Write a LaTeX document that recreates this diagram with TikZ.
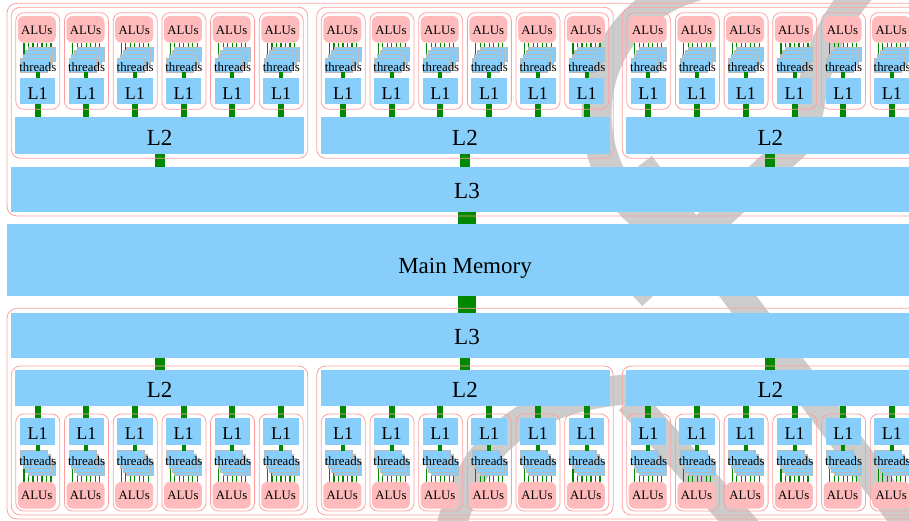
\documentclass[tikz,border=0pt]{standalone}
\usepackage{fontspec}
\setmainfont{Liberation Serif}
\usetikzlibrary{calc}
\newcommand\fbig{\fontsize{23}{23}\selectfont}
\newcommand\fmid{\fontsize{18}{18}\selectfont}
\newcommand\fsml{\fontsize{12.8}{12.8}\selectfont}
\definecolor{cachec}{RGB}{135,206,250}
\definecolor{aluc}{RGB}{255,187,187}
\definecolor{frmc}{RGB}{255,160,160}
\definecolor{lnkc}{RGB}{0,136,0}
\definecolor{wmc}{RGB}{204,204,204}
\definecolor{thrc}{RGB}{185,185,185}
\pgfdeclarelayer{wmlayer}
\pgfdeclarelayer{bglayer}
\pgfdeclarelayer{fglayer}
\pgfsetlayers{wmlayer,bglayer,main,fglayer}
\begin{document}
\begin{tikzpicture}[x=1pt,y=-1pt,
  box/.style={rectangle, inner sep=0pt, outer sep=0pt},
  cachebox/.style={box, fill=cachec, text=black},
  biglabel/.style={font=\fbig, text height=19pt, text depth=0pt},
  l1label/.style={font=\fmid, text height=16pt, text depth=0pt},
  alubox/.style={box, fill=aluc, rounded corners=6pt, font=\fsml, text height=10pt, text depth=0pt, minimum width=38pt, minimum height=26.6pt},
  thrbox/.style={box, fill=cachec, draw=thrc, line width=0.6pt, minimum width=27pt, minimum height=14pt},
  thrlabel/.style={box, font=\fsml, text height=9pt, text depth=0pt},
  frm/.style={box, draw=frmc, line width=0.8pt},
  conn/.style={draw=lnkc, line cap=butt},
  tick/.style={draw=lnkc, line width=1.1pt},
  wmark/.style={draw=wmc, line width=30pt, line cap=butt},
]
\useasboundingbox (0,0) rectangle (909,521);

% ---------- watermark ----------
\begin{pgfonlayer}{wmlayer}
\clip (0,0) rectangle (909,521);
\draw[wmark] (700,-15) .. controls (565,20) and (570,190) .. (670,232);
\draw[wmark] (640,165) -- (935,560);
\draw[wmark] (865,-15) .. controls (805,50) and (815,110) .. (800,140) -- (632,295);
\draw[wmark] (650,388) .. controls (530,392) and (470,440) .. (448,540);
\draw[wmark] (630,400) -- (760,545);
\end{pgfonlayer}

% ---------- central column ----------
\node[cachebox, biglabel, minimum width=912pt, minimum height=45pt] (uL3) at (467,189.2) {L3};
\node[cachebox, font=\fbig, text height=26.5pt, text depth=0pt, minimum width=916pt, minimum height=71.5pt] (mm) at (465,259.75) {Main Memory};
\node[cachebox, biglabel, minimum width=912pt, minimum height=44.5pt] (lL3) at (467,335.25) {L3};
\draw[conn, line width=18pt] (uL3.south) -- (uL3.south |- mm.north);
\draw[conn, line width=18pt] (uL3.south |- mm.south) -- (lL3.north);
\begin{pgfonlayer}{fglayer}
\node[frm, rounded corners=10pt, minimum width=916pt, minimum height=212.7pt] (uL3f) at (465,109.65) {};
\node[frm, rounded corners=10pt, minimum width=916pt, minimum height=210.7pt] (lL3f) at (465,413.65) {};
\end{pgfonlayer}

\foreach \g in {0,1,2} {
  \pgfmathsetmacro{\gcx}{159.55+305.45*\g}
  % ===== upper group =====
  \node[cachebox, biglabel, minimum width=289pt, minimum height=36.7pt] (uL2-\g) at (\gcx,135.65) {L2};
  \draw[conn, line width=10pt] (uL2-\g.south) -- (uL2-\g.south |- uL3.north);
  \begin{pgfonlayer}{fglayer}
  \node[frm, rounded corners=9pt, minimum width=296.5pt, minimum height=151pt] (ugf-\g) at (\gcx,82.8) {};
  \end{pgfonlayer}
  % ===== lower group =====
  \node[cachebox, biglabel, minimum width=289pt, minimum height=36pt] (lL2-\g) at (\gcx,388) {L2};
  \draw[conn, line width=10pt] (lL2-\g.north |- lL3.south) -- (lL2-\g.north);
  \begin{pgfonlayer}{fglayer}
  \node[frm, rounded corners=9pt, minimum width=296.5pt, minimum height=149pt] (lgf-\g) at (\gcx,440.5) {};
  \end{pgfonlayer}
  \foreach \c in {0,...,5} {
    \pgfmathsetmacro{\cx}{\gcx-121.75+48.7*\c}
    % ----- upper core -----
    \node[alubox] (ua-\g-\c) at (\cx-1,29.35) {ALUs};
    \foreach \i in {3,2,1,0} {
      \node[thrbox] (ut\i-\g-\c) at ({\cx-4+2.7*\i},{65-3.7*\i}) {};
    }
    \node[thrlabel] (utl-\g-\c) at (\cx,67.2) {threads};
    \node[cachebox, l1label, minimum width=35.5pt, minimum height=26.5pt] (ul1-\g-\c) at (\cx-0.25,91.25) {L1};
    \draw[conn, line width=4pt] (ul1-\g-\c.north |- ut0-\g-\c.south) -- (ul1-\g-\c.north);
    \draw[conn, line width=6pt] (ul1-\g-\c.south) -- (ul1-\g-\c.south |- uL2-\g.north);
    \begin{pgfonlayer}{bglayer}
      \foreach \k in {0,...,6} {
        \pgfmathsetmacro{\tx}{-12.8+4.5*\k}
        \draw[tick] ($(ua-\g-\c.south)+(\tx,0)$) -- ($(ua-\g-\c.south |- ut0-\g-\c.north)+(\tx,0)$);
      }
    \end{pgfonlayer}
    \begin{pgfonlayer}{fglayer}
      \node[frm, rounded corners=8pt, minimum width=44pt, minimum height=96.6pt] (ucf-\g-\c) at (\cx,61) {};
    \end{pgfonlayer}
    % ----- lower core -----
    \node[cachebox, l1label, minimum width=35.5pt, minimum height=26.5pt] (ll1-\g-\c) at (\cx-0.25,431.25) {L1};
    \foreach \i in {3,2,1,0} {
      \node[thrbox] (lt\i-\g-\c) at ({\cx-4+2.7*\i},{457.5+3.7*\i}) {};
    }
    \node[thrlabel] (ltl-\g-\c) at (\cx,460.5) {threads};
    \node[alubox, text height=9pt] (la-\g-\c) at (\cx-1,495.25) {ALUs};
    \draw[conn, line width=4pt] (ll1-\g-\c.south) -- (ll1-\g-\c.south |- lt0-\g-\c.north);
    \draw[conn, line width=6pt] (ll1-\g-\c.north |- lL2-\g.south) -- (ll1-\g-\c.north);
    \begin{pgfonlayer}{bglayer}
      \foreach \k in {0,...,6} {
        \pgfmathsetmacro{\tx}{-12.8+4.5*\k}
        \draw[tick] ($(la-\g-\c.north)+(\tx,0)$) -- ($(la-\g-\c.north |- lt0-\g-\c.south)+(\tx,0)$);
      }
    \end{pgfonlayer}
    \begin{pgfonlayer}{fglayer}
      \node[frm, rounded corners=8pt, minimum width=44pt, minimum height=97pt] (lcf-\g-\c) at (\cx,462.5) {};
    \end{pgfonlayer}
  }
}
\end{tikzpicture}
\end{document}
